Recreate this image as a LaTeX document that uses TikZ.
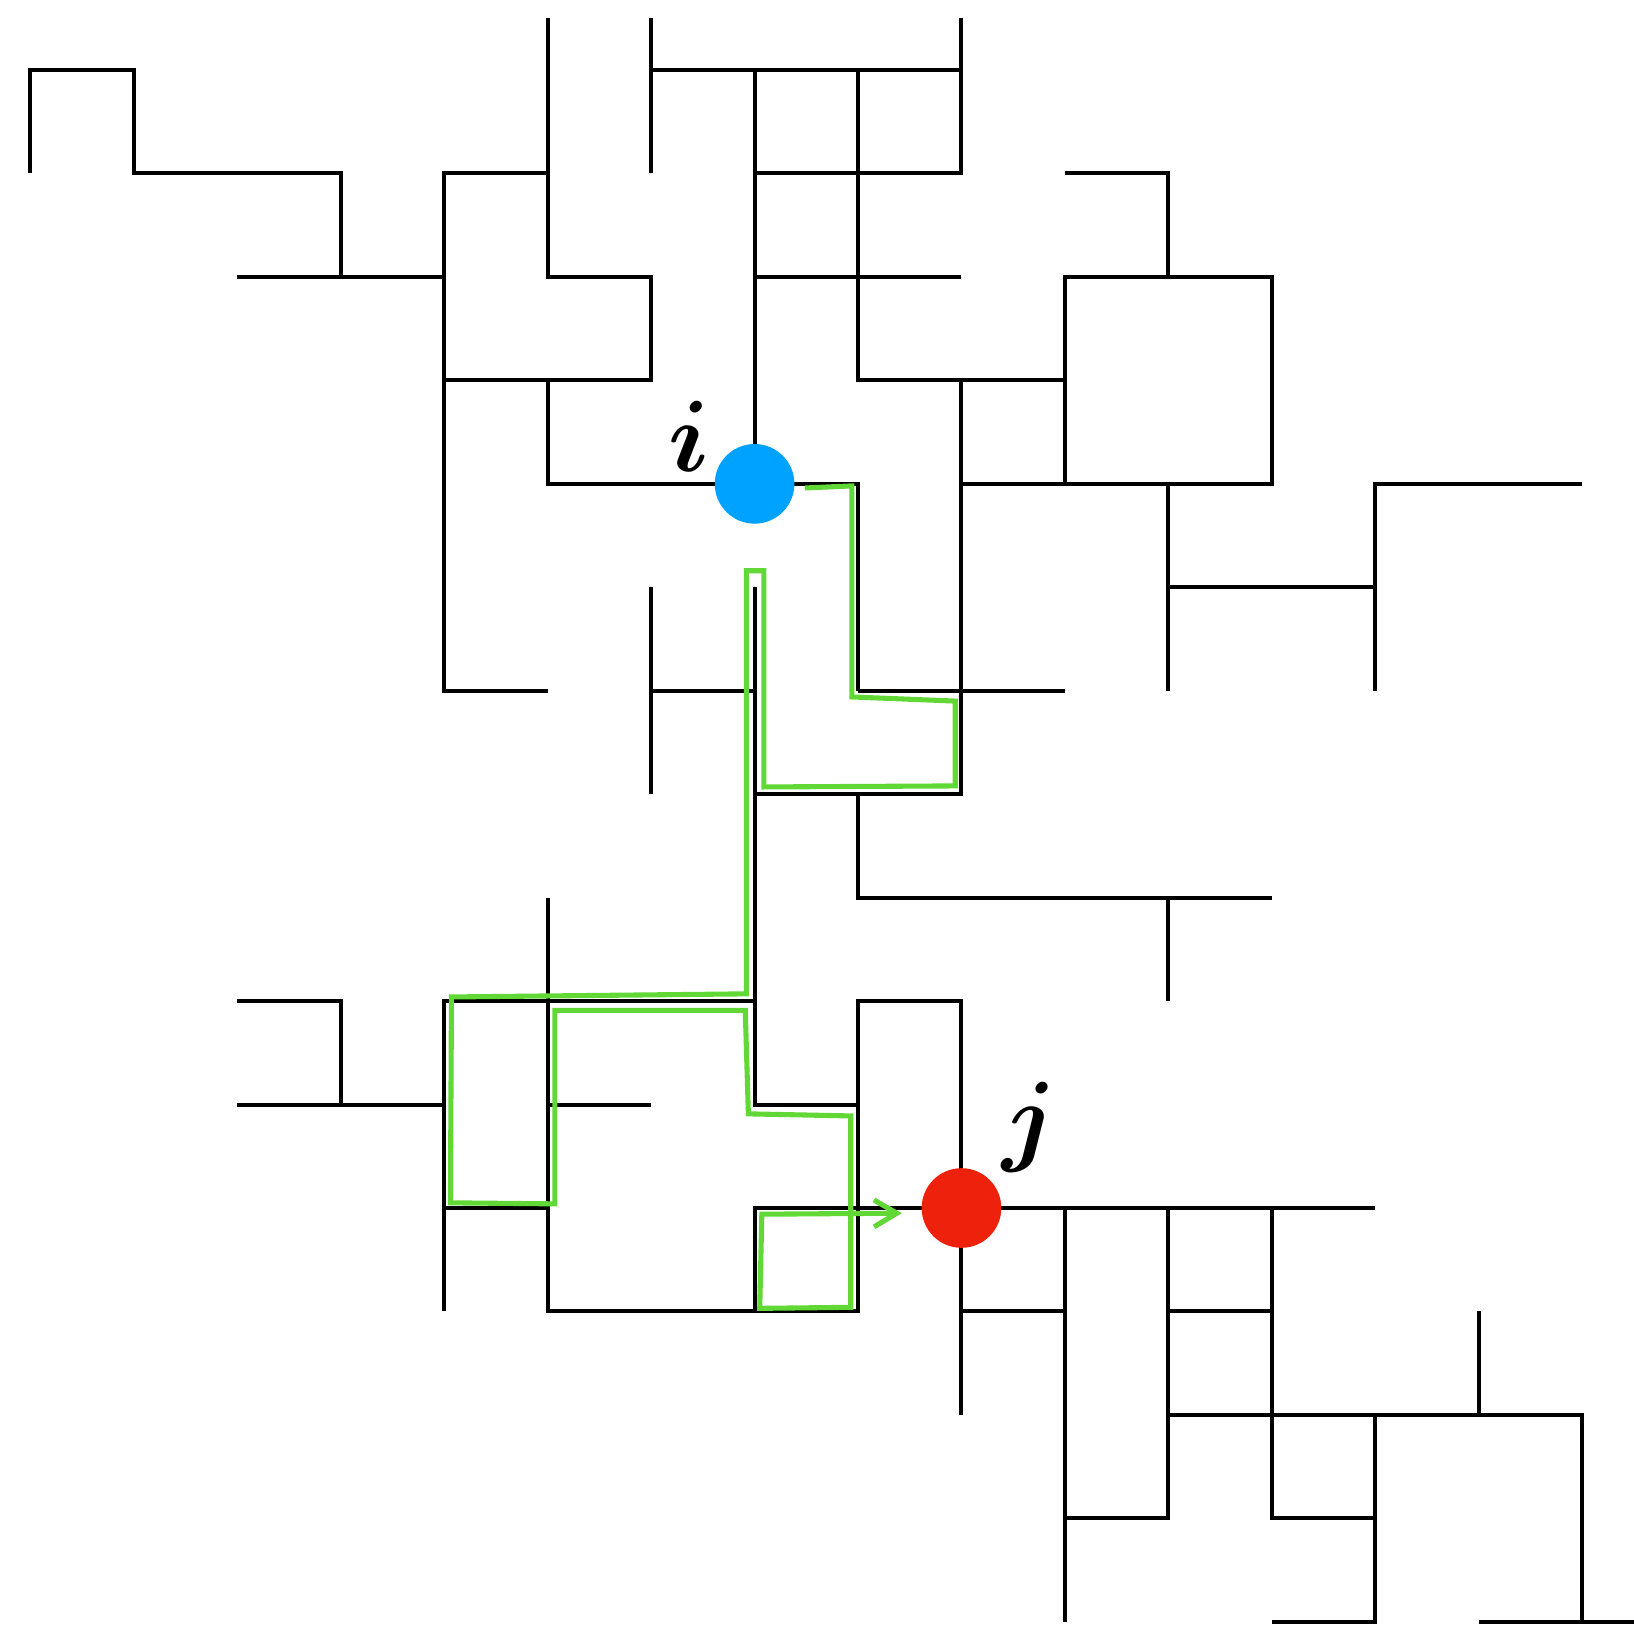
\documentclass[tikz,border=0pt]{standalone}
\usepackage{amsmath}
\usetikzlibrary{arrows.meta,calc}
\definecolor{siteblue}{RGB}{0,162,255}
\definecolor{sitered}{RGB}{238,34,12}
\definecolor{walkgreen}{RGB}{97,216,54}
\tikzset{bond/.style={line width=1.1pt},
  walk/.style={draw=walkgreen, line width=1.4pt, -{Straight Barb[length=2.2mm,width=2.6mm]}},
  site/.style={circle, inner sep=0pt, minimum size=7.7mm},
  lbl/.style={inner sep=0pt, font=\Huge}}
\newcommand{\sitelabel}[1]{\scalebox{1.12}{$\boldsymbol{#1}$}}

\begin{document}
\begin{tikzpicture}
  \useasboundingbox (-0.294,0.677) rectangle (15.501,-15.070);
  % open bonds of the lattice
  \draw[bond] (0,-1) -- (0,0) -- (1,0) -- (1,-1) -- (3,-1) -- (3,-2);
  \draw[bond] (2,-2) -- (4,-2);
  \draw[bond] (5,-1) -- (4,-1) -- (4,-6) -- (5,-6);
  \draw[bond] (5,0.5) -- (5,-2) -- (6,-2) -- (6,-3) -- (4,-3);
  \draw[bond] (5,-3) -- (5,-4) -- (8,-4) -- (8,-6);
  \draw[bond] (6,0.5) -- (6,-1);
  \draw[bond] (6,0) -- (9,0);
  \draw[bond] (9,0.5) -- (9,-1) -- (7,-1);
  \draw[bond] (7,0) -- (7,-4);
  \draw[bond] (8,0) -- (8,-3) -- (10,-3);
  \draw[bond] (7,-2) -- (9,-2);
  \draw[bond] (10,-1) -- (11,-1) -- (11,-2);
  \draw[bond] (10,-4) -- (10,-2) -- (12,-2) -- (12,-4) -- (9,-4);
  \draw[bond] (9,-3) -- (9,-7) -- (7,-7);
  \draw[bond] (8,-6) -- (10,-6);
  \draw[bond] (11,-4) -- (11,-6);
  \draw[bond] (13,-6) -- (13,-4) -- (15,-4);
  \draw[bond] (11,-5) -- (13,-5);
  \draw[bond] (6,-5) -- (6,-7);
  \draw[bond] (6,-6) -- (7,-6);
  \draw[bond] (7,-5) -- (7,-10) -- (8,-10);
  \draw[bond] (8,-7) -- (8,-8) -- (12,-8);
  \draw[bond] (11,-8) -- (11,-9);
  \draw[bond] (2,-9) -- (3,-9) -- (3,-10);
  \draw[bond] (2,-10) -- (4,-10);
  \draw[bond] (4,-12) -- (4,-9) -- (7,-9);
  \draw[bond] (5,-8) -- (5,-12) -- (8,-12) -- (8,-9) -- (9,-9) -- (9,-13);
  \draw[bond] (5,-10) -- (6,-10);
  \draw[bond] (4,-11) -- (5,-11);
  \draw[bond] (7,-12) -- (7,-11) -- (13,-11);
  \draw[bond] (9,-12) -- (10,-12);
  \draw[bond] (10,-11) -- (10,-15);
  \draw[bond] (10,-14) -- (11,-14) -- (11,-11);
  \draw[bond] (11,-12) -- (12,-12);
  \draw[bond] (12,-11) -- (12,-14) -- (13,-14);
  \draw[bond] (11,-13) -- (15,-13) -- (15,-15);
  \draw[bond] (14,-15) -- (15.6,-15);
  \draw[bond] (14,-12) -- (14,-13);
  \draw[bond] (13,-13) -- (13,-15) -- (12,-15);

  % the two sites
  \node[site, fill=siteblue] (i) at (7,-4) {};
  \node[site, fill=sitered] (j) at (9,-11) {};
  \node[lbl] (ilbl) at (6.37,-3.54) {\sitelabel{i}};
  \node[lbl] (jlbl) at (9.66,-10.22) {\sitelabel{j}};

  % walk from i to j
  \coordinate (start) at ($(i.east)+(0.095,-0.04)$);
  \draw[walk] (start) -- (7.94,-4.02) -- (7.94,-6.06) -- (8.94,-6.10) -- (8.94,-6.92)
    -- (7.09,-6.93) -- (7.09,-4.84) -- (6.92,-4.84) -- (6.92,-8.93) -- (4.07,-8.96)
    -- (4.06,-10.95) -- (5.07,-10.96) -- (5.07,-9.09) -- (6.91,-9.09) -- (6.94,-10.09)
    -- (7.93,-10.11) -- (7.93,-11.96) -- (7.05,-11.97) -- (7.07,-11.06)
    -- ($(j.west)+(-0.185,-0.05)$);
\end{tikzpicture}
\end{document}
